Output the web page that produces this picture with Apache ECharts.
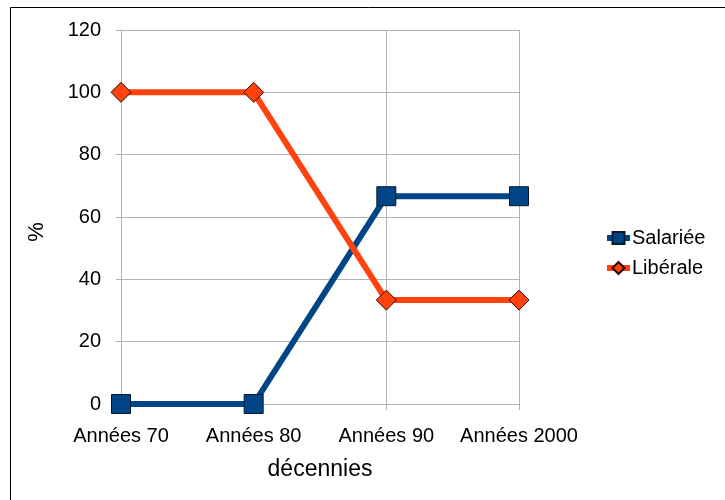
<!DOCTYPE html>
<html><head><meta charset="utf-8">
<script src="https://cdn.jsdelivr.net/npm/echarts@6/dist/echarts.min.js"></script>
<style>html,body{margin:0;padding:0;background:#fff}#c{width:725px;height:500px}</style>
</head><body><div id="c"></div>
<script>
const categories = ['Années 70', 'Années 80', 'Années 90', 'Années 2000'];
const salariee = [0, 0, 66.67, 66.67];
const liberale = [100, 100, 33.33, 33.33];
const yTicks = [0, 20, 40, 60, 80, 100, 120];

const chart = echarts.init(document.getElementById('c'));
const font = 'Liberation Sans';
chart.setOption({
  animation: false,
  backgroundColor: '#fff',
  graphic: [
    {type:'rect', shape:{x:10.5, y:7.5, width:800, height:600}, style:{fill:'none', stroke:'#000', lineWidth:1}, silent:true},
    {type:'text', x:37, y:232, rotation:Math.PI/2, style:{text:'%', fill:'#000', font:'22px "Liberation Sans"', align:'center', verticalAlign:'middle'}, silent:true}
  ],
  grid: {left:121, right:206, top:30, bottom:96, containLabel:false},
  xAxis: {
    type:'category', data:categories, boundaryGap:false,
    axisLine:{lineStyle:{color:'#b3b3b3', width:1}},
    axisTick:{show:true, length:6, interval:0, lineStyle:{color:'#b3b3b3'}},
    axisLabel:{color:'#000', fontFamily:font, fontSize:20, margin:22, interval:0},
    splitLine:{show:true, interval:function(i){return i>=2;}, lineStyle:{color:'#b3b3b3'}},
    name:'décennies', nameLocation:'middle', nameGap:54,
    nameTextStyle:{color:'#000', fontFamily:font, fontSize:23}
  },
  yAxis: {
    type:'value', min:yTicks[0], max:yTicks[yTicks.length-1], interval:20,
    axisLine:{show:true, lineStyle:{color:'#b3b3b3'}},
    axisTick:{show:true, length:5, lineStyle:{color:'#b3b3b3'}},
    axisLabel:{color:'#000', fontFamily:font, fontSize:20, margin:20},
    splitLine:{show:true, lineStyle:{color:'#b3b3b3'}}
  },
  legend: {
    orient:'vertical', left:599, top:223, itemGap:10, itemWidth:23, itemHeight:15,
    lineStyle:{width:6},
    textStyle:{color:'#000', fontFamily:font, fontSize:20, padding:[0,0,0,-3]},
    data:['Salariée','Libérale']
  },
  series: [
    {name:'Salariée', type:'line', data:salariee, color:'#004586',
     lineStyle:{width:6, color:'#004586'}, symbol:'rect', symbolSize:19,
     itemStyle:{color:'#004586', borderColor:'#0a1a2a', borderWidth:1}},
    {name:'Libérale', type:'line', data:liberale, color:'#ff420e',
     lineStyle:{width:6, color:'#ff420e'}, symbol:'diamond', symbolSize:[20,20],
     itemStyle:{color:'#ff420e', borderColor:'#2a0a00', borderWidth:1}}
  ]
});
</script></body></html>
